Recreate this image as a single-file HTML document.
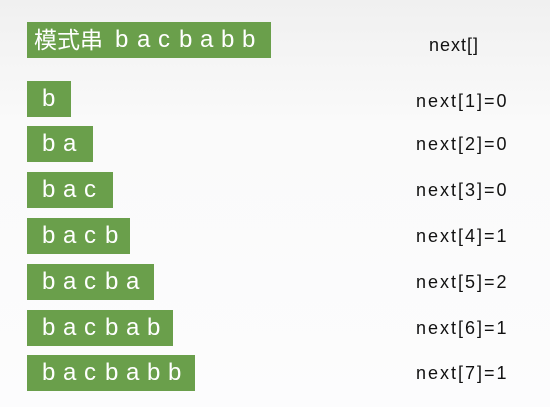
<!DOCTYPE html>
<html><head><meta charset="utf-8"><style>
body{margin:0;width:550px;height:407px;overflow:hidden;background:linear-gradient(#f0f0f0 0%,#fafafa 30%,#fcfcfd 100%);font-family:"Liberation Sans","Noto Sans CJK SC",sans-serif;position:relative}
.box{position:absolute;left:27px;background:#6a9f4b;height:36px}
.l{position:absolute;color:#fff;font-size:24px;line-height:36px;top:0}
.n{position:absolute;font-size:18px;color:#111;line-height:20px;letter-spacing:2px}
</style></head><body>
<div class="box" style="top:22px;width:244px"><span class="l" style="left:7px;font-size:23px">模式串</span></div>
<div class="box" style="top:81px;width:44px"></div>
<div class="box" style="top:126px;width:66px"></div>
<div class="box" style="top:172px;width:86px"></div>
<div class="box" style="top:218px;width:103px"></div>
<div class="box" style="top:264px;width:127px"></div>
<div class="box" style="top:310px;width:146px"></div>
<div class="box" style="top:355px;width:168px"></div>
<div class="n" style="left:429px;top:35px;letter-spacing:1px">next[]</div>
<div class="n" style="left:416px;top:91px">next[1]=0</div>
<div class="n" style="left:416px;top:134px">next[2]=0</div>
<div class="n" style="left:416px;top:180px">next[3]=0</div>
<div class="n" style="left:416px;top:226px">next[4]=1</div>
<div class="n" style="left:416px;top:272px">next[5]=2</div>
<div class="n" style="left:416px;top:318px">next[6]=1</div>
<div class="n" style="left:416px;top:363px">next[7]=1</div>
<div style="position:absolute;left:0;top:0">
<span class="l" style="left:115px;top:22px">b</span><span class="l" style="left:137px;top:22px">a</span><span class="l" style="left:158px;top:22px">c</span><span class="l" style="left:179px;top:22px">b</span><span class="l" style="left:200px;top:22px">a</span><span class="l" style="left:221px;top:22px">b</span><span class="l" style="left:242px;top:22px">b</span>
<span class="l" style="left:42px;top:81px">b</span>
<span class="l" style="left:42px;top:126px">b</span><span class="l" style="left:63px;top:126px">a</span>
<span class="l" style="left:42px;top:172px">b</span><span class="l" style="left:63px;top:172px">a</span><span class="l" style="left:84px;top:172px">c</span>
<span class="l" style="left:42px;top:218px">b</span><span class="l" style="left:63px;top:218px">a</span><span class="l" style="left:84px;top:218px">c</span><span class="l" style="left:105px;top:218px">b</span>
<span class="l" style="left:42px;top:264px">b</span><span class="l" style="left:63px;top:264px">a</span><span class="l" style="left:84px;top:264px">c</span><span class="l" style="left:105px;top:264px">b</span><span class="l" style="left:126px;top:264px">a</span>
<span class="l" style="left:42px;top:310px">b</span><span class="l" style="left:63px;top:310px">a</span><span class="l" style="left:84px;top:310px">c</span><span class="l" style="left:105px;top:310px">b</span><span class="l" style="left:126px;top:310px">a</span><span class="l" style="left:147px;top:310px">b</span>
<span class="l" style="left:42px;top:355px">b</span><span class="l" style="left:63px;top:355px">a</span><span class="l" style="left:84px;top:355px">c</span><span class="l" style="left:105px;top:355px">b</span><span class="l" style="left:126px;top:355px">a</span><span class="l" style="left:147px;top:355px">b</span><span class="l" style="left:168px;top:355px">b</span>
</div>
</body></html>
